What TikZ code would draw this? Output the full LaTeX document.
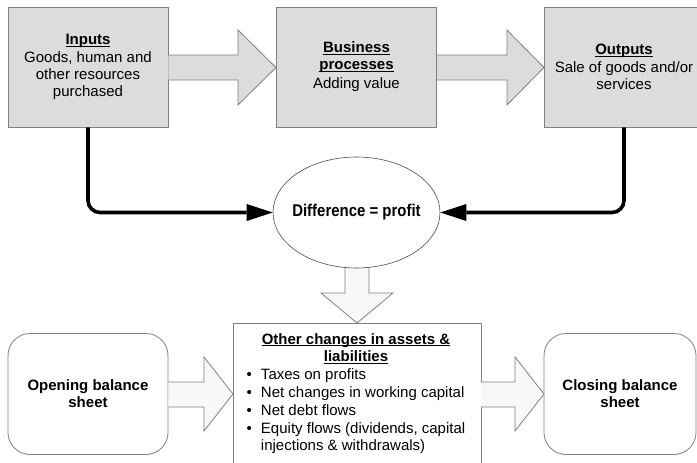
\documentclass[tikz,border=0pt]{standalone}
\usepackage{fontspec}
\setmainfont{Liberation Sans}
\newfontfamily\narrowfont[FakeStretch=0.88]{Liberation Sans}
\usetikzlibrary{arrows.meta,shapes.geometric}
\definecolor{boxgray}{HTML}{DCDCDC}
\definecolor{edgegray}{HTML}{808080}
\definecolor{lightfill}{HTML}{F8F8F8}
\newcommand{\ulhead}[1]{\underline{\raisebox{0pt}[\height][0pt]{\textbf{#1}}}\vphantom{g}}
\tikzset{
  topbox/.style={draw=edgegray, fill=boxgray, line width=0.8pt, minimum width=160pt,
    minimum height=120pt, inner sep=0pt, align=center, font=\fontsize{15}{17}\selectfont},
  roundbox/.style={draw=edgegray, fill=white, line width=0.8pt, rounded corners=22pt,
    minimum height=121pt, inner sep=0pt, align=center, font=\fontsize{15}{17}\selectfont\bfseries},
  blockarrow/.style={draw=edgegray, line width=0.8pt, line join=miter},
  conn/.style={line width=3.6pt, rounded corners=12pt,
    -{Triangle[length=26pt,width=17pt,line width=0pt]}},
}
\begin{document}
\begin{tikzpicture}[x=1pt,y=-1pt]
\useasboundingbox (0,0) rectangle (697,463);
\clip (0,0) rectangle (697,463);

% top row
\node[topbox] (inputs) at (88,67) {\ulhead{Inputs}\\[1pt]Goods, human and\\other resources\\purchased};
\node[topbox] (business) at (356.5,67) {\ulhead{Business}\\\ulhead{processes}\\[2pt]Adding value};
\node[topbox] (outputs) at (624,67) {\ulhead{Outputs}\\[1pt]Sale of goods and/or\\services};

\draw[blockarrow, fill=boxgray] (168.4,55) -- (238,55) -- (238,30) -- (276,67.5) -- (238,105) -- (238,80) -- (168.4,80);
\draw[blockarrow, fill=boxgray] (437,55) -- (507,55) -- (507,30) -- (544,67.5) -- (507,105) -- (507,80) -- (437,80);

% profit ellipse
\draw[blockarrow, fill=lightfill] (345,266) -- (345,293) -- (321,293) -- (357,323) -- (393,293) -- (369,293) -- (369,266);
\node[ellipse, draw=black!70, fill=white, line width=0.6pt, minimum width=167pt, minimum height=111pt, inner sep=0pt]
  (diff) at (356.5,212.5) {};
\node[inner sep=0pt, font=\narrowfont\fontsize{17}{19}\selectfont\bfseries] (difftext) at (diff.center) {Difference = profit};

\draw[conn] (inputs.south) |- (diff.west);
\draw[conn] (outputs.south) |- (diff.east);

% bottom row
\node[roundbox, minimum width=160pt] (opening) at (88,394) {Opening balance\\sheet};
\node[roundbox, minimum width=152pt] (closing) at (620,394) {Closing balance\\sheet};
\node[draw=edgegray, fill=white, line width=0.8pt, minimum width=248pt, minimum height=150pt,
  anchor=north west, inner sep=0pt] (changes) at (233,323) {};
\node[inner sep=0pt, font=\fontsize{15}{17.8}\selectfont] (changestext) at (356,394) {%
  \begin{tabular}{@{}c@{\hspace{9pt}}l@{}}
  \multicolumn{2}{c}{\ulhead{Other changes in assets \&}}\\
  \multicolumn{2}{c}{\ulhead{liabilities}}\\
  • & Taxes on profits\\
  • & Net changes in working capital\\
  • & Net debt flows\\
  • & Equity flows (dividends, capital\\
    & injections \& withdrawals)
  \end{tabular}};

\draw[blockarrow, fill=lightfill] (168.4,382) -- (204,382) -- (204,357) -- (233,394) -- (204,431) -- (204,407) -- (168.4,407);
\draw[blockarrow, fill=lightfill] (481,382) -- (515,382) -- (515,357) -- (544,394) -- (515,431) -- (515,407) -- (481,407);
\end{tikzpicture}
\end{document}
